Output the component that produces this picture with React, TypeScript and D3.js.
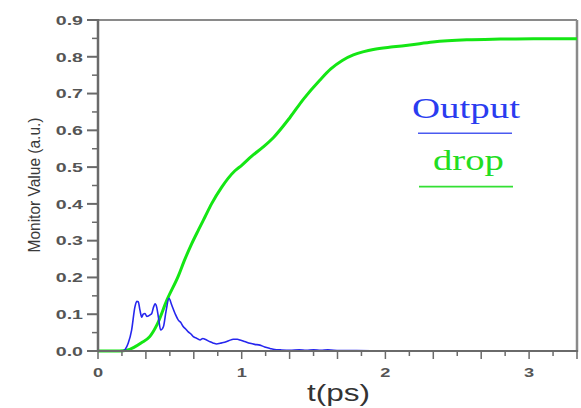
import React from "react";
import * as d3 from "d3";

const W = 581;
const H = 408;

// t (ps), value
const dropT = [0, 0.15, 0.2, 0.25, 0.3, 0.36, 0.41, 0.48, 0.56, 0.6, 0.65, 0.7, 0.745, 0.79, 0.86, 0.953, 1.0, 1.07, 1.15, 1.22, 1.336, 1.43, 1.545, 1.62, 1.7, 1.777, 1.85, 1.916, 2.055, 2.17, 2.33, 2.566, 2.8, 3.03, 3.333];
const dropV = [0, 0, 0.002, 0.01, 0.022, 0.039, 0.071, 0.139, 0.205, 0.245, 0.29, 0.33, 0.365, 0.4, 0.445, 0.49, 0.505, 0.53, 0.555, 0.58, 0.635, 0.685, 0.737, 0.767, 0.79, 0.805, 0.814, 0.82, 0.827, 0.832, 0.84, 0.846, 0.848, 0.849, 0.849];

const outT = [0, 0.17, 0.19, 0.21, 0.234, 0.257, 0.27, 0.28, 0.292, 0.304, 0.315, 0.327, 0.34, 0.35, 0.362, 0.374, 0.387, 0.397, 0.408, 0.42, 0.436, 0.455, 0.473, 0.494, 0.513, 0.536, 0.559, 0.575, 0.594, 0.61, 0.628, 0.645, 0.663, 0.68, 0.71, 0.73, 0.745, 0.78, 0.8, 0.826, 0.85, 0.872, 0.91, 0.942, 0.97, 0.988, 1.02, 1.058, 1.09, 1.127, 1.16, 1.197, 1.23, 1.27, 1.336, 1.4, 1.45, 1.5, 1.55, 1.6, 1.68, 1.8, 2.0, 3.333];
const outV = [0, 0, 0.005, 0.021, 0.057, 0.12, 0.135, 0.134, 0.111, 0.092, 0.1, 0.102, 0.094, 0.095, 0.098, 0.102, 0.12, 0.128, 0.12, 0.093, 0.057, 0.066, 0.107, 0.143, 0.125, 0.102, 0.084, 0.078, 0.066, 0.06, 0.052, 0.047, 0.039, 0.036, 0.03, 0.034, 0.032, 0.025, 0.022, 0.019, 0.021, 0.023, 0.028, 0.032, 0.032, 0.03, 0.026, 0.021, 0.018, 0.016, 0.011, 0.007, 0.004, 0.003, 0.002, 0.003, 0.002, 0.003, 0.002, 0.003, 0.001, 0.001, 0, 0];

const yTicks = [0, 0.1, 0.2, 0.3, 0.4, 0.5, 0.6, 0.7, 0.8, 0.9];
const yTickLabels = ["0.0", "0.1", "0.2", "0.3", "0.4", "0.5", "0.6", "0.7", "0.8", "0.9"];
const xLabelTicks = [0, 1, 2, 3];
const xLabels = ["0", "1", "2", "3"];

const legendNames = ["Output", "drop"];

export default function App() {
  const x = d3.scaleLinear().domain([0, 10 / 3]).range([98, 577]);
  const y = d3.scaleLinear().domain([0, 0.9]).range([351, 20]);

  const line = d3
    .line<[number, number]>()
    .x((d) => x(d[0]))
    .y((d) => y(d[1]))
    .curve(d3.curveMonotoneX);

  const dropData: [number, number][] = dropT.map((t, i) => [t, dropV[i]]);
  const outData: [number, number][] = outT.map((t, i) => [t, outV[i]]);

  const xMinor: number[] = d3.range(0, 21).map((i) => i / 6);
  const yMinor: number[] = d3.range(0, 19).map((i) => i * 0.05);

  const axisColor = "#6a6a6a";
  const blue = "#2626ee";
  const green = "#14e614";

  return (
    <svg
      width={W}
      height={H}
      style={{ position: "absolute", left: 0, top: 0, background: "#fff" }}
      fontFamily="'Liberation Sans', Arial, sans-serif"
    >
      {/* frame */}
      <line x1={98} x2={577} y1={20} y2={20} stroke="#8a8a8a" strokeWidth={2} />
      <line x1={577} x2={577} y1={20} y2={352} stroke="#8a8a8a" strokeWidth={2.5} />

      {/* curves */}
      <path d={line(dropData) || ""} fill="none" stroke={green} strokeWidth={3} strokeLinejoin="round" />
      <path d={line(outData) || ""} fill="none" stroke={blue} strokeWidth={1.6} strokeLinejoin="round" />

      {/* axes */}
      <line x1={98} x2={98} y1={19} y2={352} stroke={axisColor} strokeWidth={2.5} />
      <line x1={97} x2={578} y1={351} y2={351} stroke={axisColor} strokeWidth={2} />

      {yMinor.map((v, i) => (
        <line
          key={"ym" + i}
          x1={i % 2 === 0 ? 87 : 92}
          x2={98}
          y1={y(v)}
          y2={y(v)}
          stroke={axisColor}
          strokeWidth={i % 2 === 0 ? 2 : 1.5}
        />
      ))}
      {xMinor.map((v, i) => (
        <line
          key={"xm" + i}
          x1={x(v)}
          x2={x(v)}
          y1={351}
          y2={i % 2 === 0 ? 359 : 356}
          stroke={axisColor}
          strokeWidth={1.5}
        />
      ))}

      {yTicks.map((v, i) => (
        <text
          key={"yl" + i}
          transform={`translate(83,${y(v) + 4.8}) scale(1.45,1)`}
          textAnchor="end"
          fontSize={13.5}
          fontWeight="bold"
          fill="#555"
        >
          {yTickLabels[i]}
        </text>
      ))}
      {xLabelTicks.map((v, i) => (
        <text
          key={"xl" + i}
          transform={`translate(${x(v)},377) scale(1.35,1)`}
          textAnchor="middle"
          fontSize={13.5}
          fontWeight="bold"
          fill="#555"
        >
          {xLabels[i]}
        </text>
      ))}

      {/* axis titles */}
      <text
        transform="translate(40,185) rotate(-90)"
        textAnchor="middle"
        fontSize={16}
        fill="#3a3a3a"
        textLength={135}
        lengthAdjust="spacingAndGlyphs"
      >
        Monitor Value (a.u.)
      </text>
      <text
        x={307}
        y={401}
        fontSize={24}
        fill="#333"
        textLength={63}
        lengthAdjust="spacingAndGlyphs"
      >
        t(ps)
      </text>

      {/* legend */}
      <text
        x={412}
        y={117.5}
        fontFamily="'Liberation Serif', 'Times New Roman', serif"
        fontSize={29}
        fill="#2a3cf0"
        textLength={108}
        lengthAdjust="spacingAndGlyphs"
      >
        {legendNames[0]}
      </text>
      <line x1={418} x2={512} y1={133.3} y2={133.3} stroke="#4a5af0" strokeWidth={1.6} />
      <text
        x={433}
        y={170}
        fontFamily="'Liberation Serif', 'Times New Roman', serif"
        fontSize={29}
        fill="#22dd22"
        textLength={71}
        lengthAdjust="spacingAndGlyphs"
      >
        {legendNames[1]}
      </text>
      <line x1={419} x2={513} y1={186.7} y2={186.7} stroke="#33e033" strokeWidth={1.8} />
    </svg>
  );
}
